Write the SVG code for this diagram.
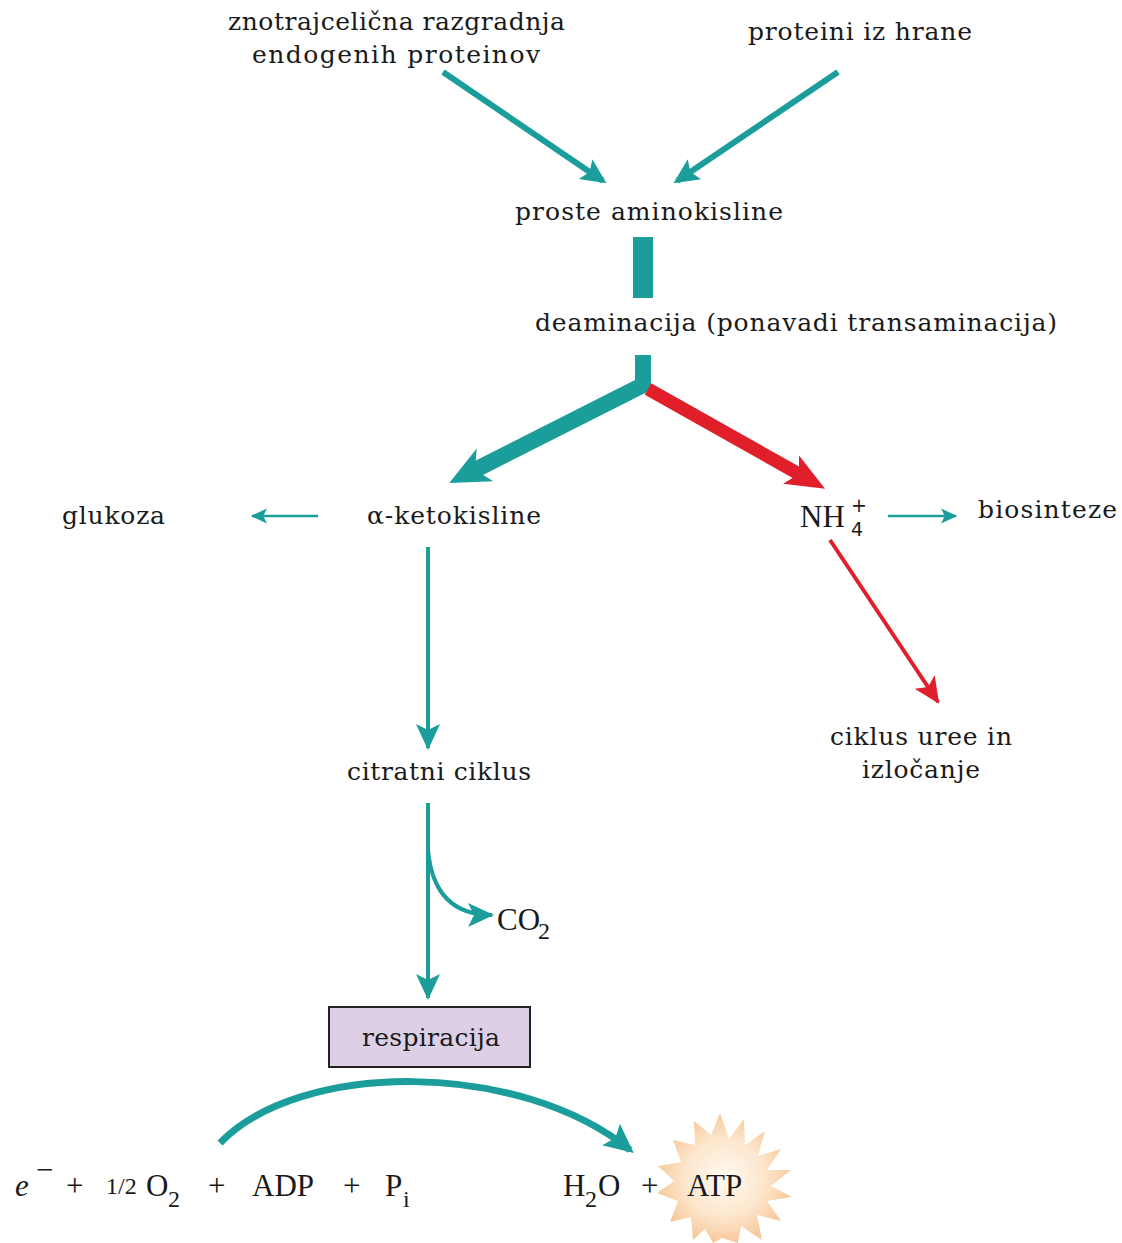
<svg xmlns="http://www.w3.org/2000/svg" width="1122" height="1243" viewBox="0 0 1122 1243">
<style>
text{font-family:"DejaVu Serif","Liberation Serif",serif;font-size:25px;fill:#1a1a1a}
text.m{font-family:"Liberation Serif","Times New Roman",serif;font-size:31px}
text.s{font-family:"Liberation Serif","Times New Roman",serif;font-size:24px}
text.sd{font-family:"DejaVu Sans","Liberation Sans",sans-serif;font-size:19px}
.t{stroke:#1b9e9b;fill:none}
.r{stroke:#e11f2b;fill:none}
</style>
<defs>
<marker id="ah" markerWidth="6" markerHeight="6" refX="3.5" refY="3" orient="auto" markerUnits="strokeWidth"><path d="M0,1 L4.2,3 L0,5 L0.8,3 Z" fill="#1b9e9b"/></marker>
<marker id="ahb" markerWidth="4" markerHeight="4" refX="0.7" refY="2" orient="auto" markerUnits="strokeWidth"><path d="M0,0.85 L2.5,2 L0,3.15 L0.7,2 Z" fill="#1b9e9b"/></marker>
<marker id="ahbr" markerWidth="4" markerHeight="4" refX="0.7" refY="2" orient="auto" markerUnits="strokeWidth"><path d="M0,0.75 L3,2 L0,3.25 L0.7,2 Z" fill="#e11f2b"/></marker>
<marker id="ahs" markerWidth="8" markerHeight="8" refX="6" refY="4" orient="auto" markerUnits="strokeWidth"><path d="M0,1 L6.5,4 L0,7 L1.5,4 Z" fill="#1b9e9b"/></marker>
<marker id="ahrs" markerWidth="8" markerHeight="8" refX="6" refY="4" orient="auto" markerUnits="strokeWidth"><path d="M0,1 L6.5,4 L0,7 L1.5,4 Z" fill="#e11f2b"/></marker>
<radialGradient id="sg" cx="0.5" cy="0.5" r="0.5"><stop offset="0" stop-color="#fffaf2"/><stop offset="0.6" stop-color="#fde6cc"/><stop offset="1" stop-color="#f7c99c"/></radialGradient>
</defs>
<g id="connectors">
<path class="t" d="M443,72 L603,181" stroke-width="6" marker-end="url(#ah)"/>
<path class="t" d="M838,72 L677,181" stroke-width="6" marker-end="url(#ah)"/>
<rect x="633" y="237" width="20" height="61" fill="#1b9e9b"/>
<path class="t" d="M643,355 L643,385 L475,470" stroke-width="16" stroke-linejoin="bevel" marker-end="url(#ahb)"/>
<path class="r" d="M648,389 L799,474" stroke-width="13" marker-end="url(#ahbr)"/>
<path class="t" d="M318,516 L252,516" stroke-width="2.5" marker-end="url(#ahs)"/>
<path class="t" d="M888,516 L956,516" stroke-width="2.5" marker-end="url(#ahs)"/>
<path class="r" d="M830,540 L938,702" stroke-width="4" marker-end="url(#ahrs)"/>
<path class="t" d="M428,547 L428,748" stroke-width="4" marker-end="url(#ahs)"/>
<path class="t" d="M428,803 L428,998" stroke-width="4" marker-end="url(#ahs)"/>
<path class="t" d="M428,850 C432,895 455,915 492,915" stroke-width="4" marker-end="url(#ahs)"/>
<path class="t" d="M220,1143 C300,1060 520,1060 630,1150" stroke-width="7" marker-end="url(#ah)"/>
</g>
<g id="n-src1"><text x="228" y="30" textLength="337">znotrajcelična razgradnja</text><text x="252" y="63" textLength="288">endogenih proteinov</text></g>
<g id="n-src2"><text x="748" y="40" textLength="224">proteini iz hrane</text></g>
<g id="n-aa"><text x="515" y="220" textLength="268">proste aminokisline</text></g>
<g id="n-deam"><text x="535" y="331" textLength="522">deaminacija (ponavadi transaminacija)</text></g>
<g id="n-gluk"><text x="62" y="524" textLength="103">glukoza</text></g>
<g id="n-keto"><text x="367" y="524" textLength="174">α-ketokisline</text></g>
<g id="n-nh4"><text class="m" x="800" y="527">NH</text><text class="sd" x="851" y="536">4</text><text class="sd" x="851" y="512">+</text></g>
<g id="n-bio"><text x="978" y="518" textLength="139">biosinteze</text></g>
<g id="n-urea"><text x="830" y="745" textLength="182">ciklus uree in</text><text x="862" y="778" textLength="118">izločanje</text></g>
<g id="n-cit"><text x="347" y="780" textLength="184">citratni ciklus</text></g>
<g id="n-co2"><text class="m" x="497" y="930">CO</text><text class="s" x="538" y="939">2</text></g>
<g id="n-resp"><rect x="329" y="1007" width="201" height="60" fill="#ddd0e6" stroke="#222" stroke-width="2"/><text x="362" y="1046" textLength="138">respiracija</text></g>
<g id="n-star"><polygon fill="url(#sg)" points="720,1113 729,1139 744,1119 745,1145 765,1131 758,1156 781,1149 767,1170 791,1170 771,1186 792,1197 767,1201 781,1221 757,1215 762,1240 741,1226 738,1243 722,1238 713,1243 705,1229 693,1240 691,1217 670,1222 678,1201 657,1193 674,1181 658,1166 681,1162 673,1140 695,1145 694,1121 711,1135"/></g>
<g id="n-left">
<text class="m" x="15" y="1196" font-style="italic">e</text>
<text class="m" x="36" y="1180">−</text>
<text class="m" x="66" y="1196">+</text>
<text class="s" x="106" y="1194">1/2</text>
<text class="m" x="146" y="1196">O</text><text class="s" x="168" y="1207">2</text>
<text class="m" x="208" y="1196">+</text>
<text class="m" x="252" y="1196">ADP</text>
<text class="m" x="343" y="1196">+</text>
<text class="m" x="385" y="1196">P</text><text class="s" x="403" y="1207">i</text>
</g>
<g id="n-right">
<text class="m" x="563" y="1196">H</text><text class="s" x="585" y="1207">2</text><text class="m" x="598" y="1196">O</text>
<text class="m" x="641" y="1196">+</text>
<text class="m" x="687" y="1196">ATP</text>
</g>
</svg>
